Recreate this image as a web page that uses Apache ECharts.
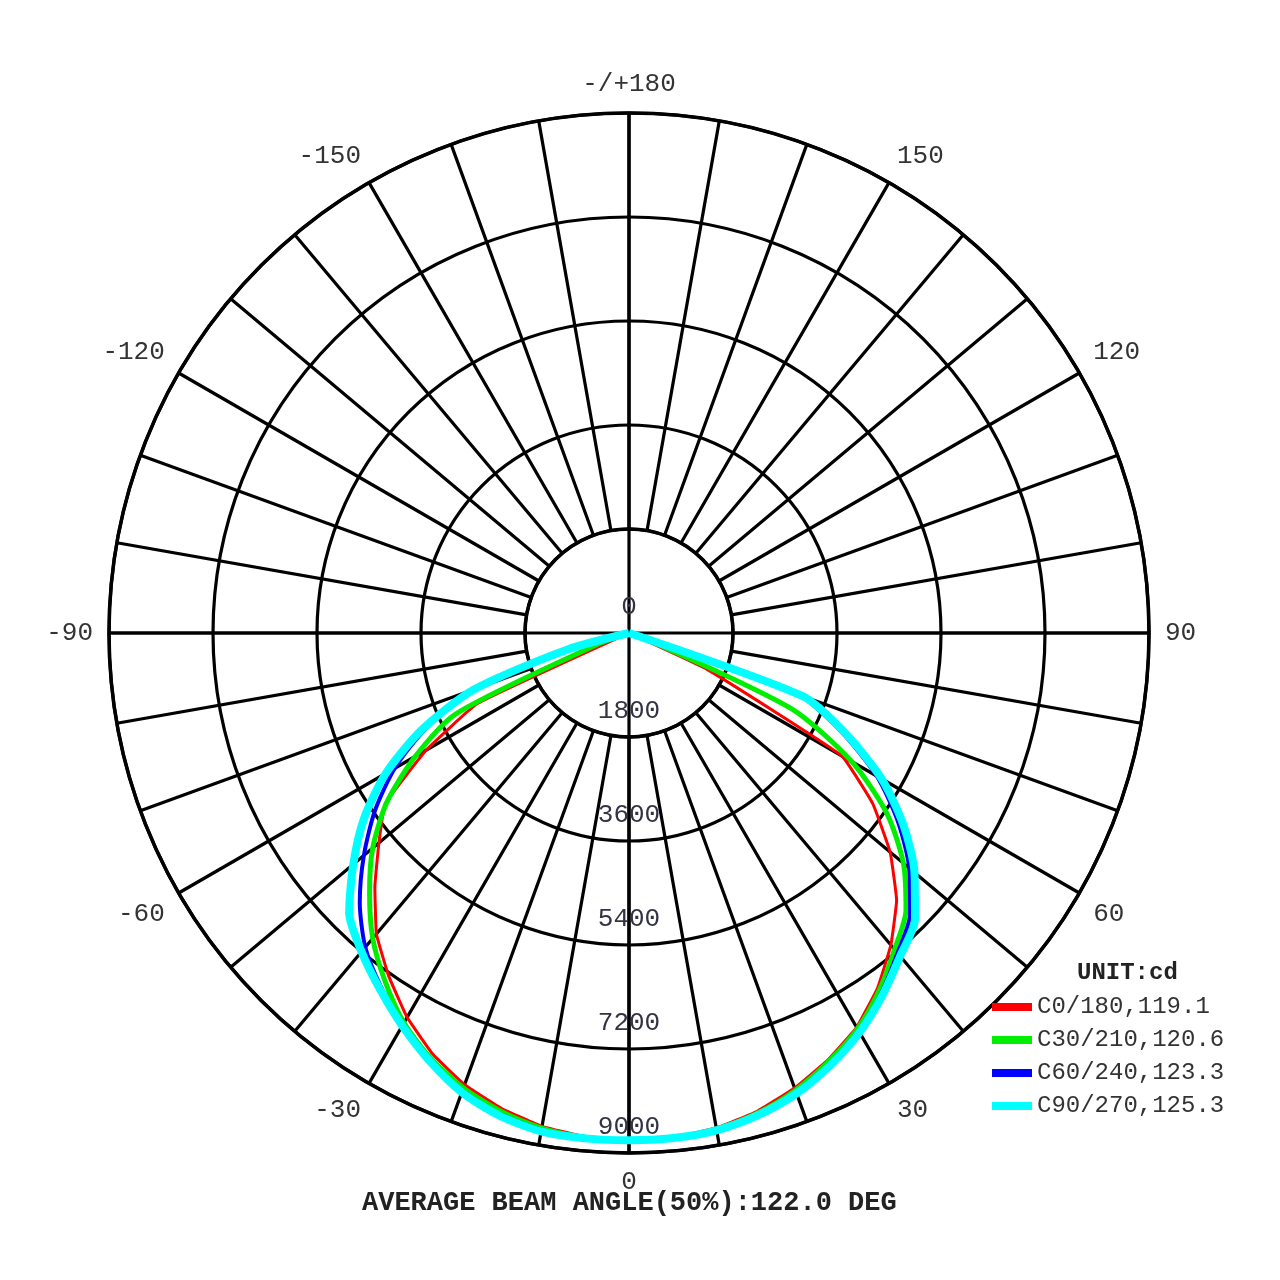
<!DOCTYPE html>
<html><head><meta charset="utf-8">
<script src="https://cdn.jsdelivr.net/npm/echarts@6/dist/echarts.min.js"></script>
<style>html,body{margin:0;padding:0;background:#fff}#c{width:1280px;height:1280px}</style>
</head><body><div id="c"></div>
<script>
// gamma angles (deg from nadir), step 5
const gamma = [0,5,10,15,20,25,30,35,40,45,50,55,60,65,70,75,80,85,90];
// right half (C0, C30, C60, C90) intensities in cd
const C0   = [8780,8760,8700,8570,8380,8150,7880,7500,7050,6550,5900,5150,4250,1500,0,0,0,0,0];
const C30  = [8780,8765,8715,8600,8420,8180,7910,7550,7150,6780,6200,5450,4450,3100,400,0,0,0,0];
const C60  = [8780,8770,8730,8625,8450,8220,7950,7610,7230,6880,6330,5680,4950,4060,3100,0,0,0,0];
const C90  = [8780,8775,8740,8640,8480,8250,7980,7650,7300,7000,6450,5800,5050,4150,3200,0,0,0,0];
// left half (C180, C210, C240, C270)
const C180 = [8780,8750,8670,8520,8320,8040,7680,7250,6800,6220,5650,5150,4050,2900,0,0,0,0,0];
const C210 = [8780,8760,8700,8570,8380,8120,7790,7360,6900,6350,5790,5120,4270,3290,600,0,0,0,0];
const C240 = [8780,8770,8730,8620,8430,8150,7830,7480,7100,6590,5990,5370,4680,3850,2780,1050,0,0,0];
const C270 = [8780,8780,8760,8650,8460,8170,7850,7520,7200,6850,6230,5600,4860,3950,2850,1100,0,0,0];

const seriesNames = ['C0/180,119.1','C30/210,120.6','C60/240,123.3','C90/270,125.3'];
const rightData = [C0, C30, C60, C90];
const leftData = [C180, C210, C240, C270];
const colors = ['#ff0000','#00ee00','#0000ff','#00ffff'];
const widths = [3,5,4,8];
const smoothness = [0.1, 0.25, 0.25, 0.25];

const radialMax = 9000, radialStep = 1800;
const titleText = 'AVERAGE BEAM ANGLE(50%):122.0 DEG';
const unitText = 'UNIT:cd';

const FONT = "'Liberation Mono','Courier New',monospace";

function lastIdx(arr) {
  // index of the first zero after the lobe (end of the curve at the centre)
  let k = arr.length - 1;
  while (k > 0 && arr[k - 1] === 0) k--;
  return k;
}

function build(right, left) {
  const pts = [];
  for (let i = lastIdx(left); i > 0; i--) pts.push([left[i], 360 - gamma[i]]);
  for (let i = 0; i <= lastIdx(right); i++) pts.push([right[i], gamma[i]]);
  return pts;
}

function angleLabel(v) {
  if (v % 30 !== 0 || v >= 360) return '';
  if (v === 180) return '-/+180';
  if (v > 180) return String(v - 360);
  return String(v);
}

const chart = echarts.init(document.getElementById('c'), null, {renderer: 'canvas'});
const series = seriesNames.map((n, k) => ({
  type: 'line', name: n, coordinateSystem: 'polar', polarIndex: 1,
  data: build(rightData[k], leftData[k]),
  symbol: 'none', showSymbol: false, clip: false, smooth: smoothness[k],
  lineStyle: {color: colors[k], width: widths[k], join: 'round'},
  itemStyle: {color: colors[k]},
  z: 3 + k
}));

chart.setOption({
  animation: false,
  backgroundColor: '#fff',
  title: [
    {text: unitText, left: 1077, top: 961, padding: 0,
     textStyle: {fontFamily: FONT, fontSize: 24, fontWeight: 'bold', color: '#222'}},
    {text: titleText, left: 362, top: 1190, padding: 0,
     textStyle: {fontFamily: FONT, fontSize: 27, fontWeight: 'bold', color: '#222'}}
  ],
  legend: {
    orient: 'vertical', left: 992, top: 995, itemWidth: 40, itemHeight: 8, itemGap: 9,
    icon: 'rect', padding: 0, data: seriesNames,
    textStyle: {fontFamily: FONT, fontSize: 24, color: '#333'}
  },
  polar: [
    {center: [629, 633], radius: [104, 520]},
    {center: [629, 633], radius: [0, 520]}
  ],
  angleAxis: [
    {polarIndex: 0, type: 'value', min: 0, max: 360, interval: 10, startAngle: 270, clockwise: false,
     axisLine: {show: true, lineStyle: {color: '#000', width: 3.5}},
     axisTick: {show: false},
     splitLine: {show: true, lineStyle: {color: '#000', width: 3.2}},
     axisLabel: {margin: 16, formatter: angleLabel, color: '#333', fontFamily: FONT, fontSize: 26}},
    {polarIndex: 1, type: 'value', min: 0, max: 360, interval: 90, startAngle: 270, clockwise: false,
     axisLine: {show: false}, axisTick: {show: false}, axisLabel: {show: false},
     splitLine: {show: true, lineStyle: {color: '#000', width: 3.2}}}
  ],
  radiusAxis: [
    {polarIndex: 0, type: 'value', min: 0, max: 1, show: false},
    {polarIndex: 1, type: 'value', min: 0, max: radialMax, interval: radialStep,
     axisLine: {show: false}, axisTick: {show: false},
     splitLine: {show: true, lineStyle: {color: '#000', width: 3.2}},
     axisLabel: {margin: 0, align: 'center', verticalAlign: 'bottom', padding: [0, 0, 13, 0],
                 formatter: v => String(v),
                 color: '#334', fontFamily: FONT, fontSize: 26}}
  ],
  series: series
});
</script></body></html>
